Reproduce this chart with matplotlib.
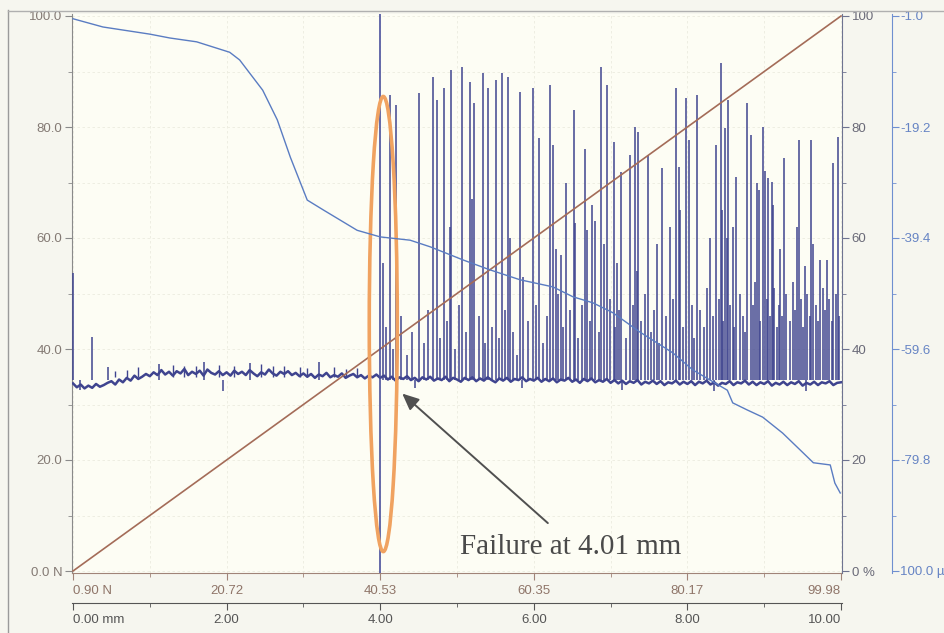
import matplotlib
matplotlib.use("Agg")
import matplotlib.pyplot as plt
from matplotlib.patches import Ellipse
from matplotlib.lines import Line2D
from matplotlib.ticker import FixedLocator
import numpy as np

# ---------------- data ----------------
dist_ticks = [0, 2, 4, 6, 8, 10]
dist_labels = ["0.00 mm", "2.00", "4.00", "6.00", "8.00", "10.00"]
load_labels = ["0.90 N", "20.72", "40.53", "60.35", "80.17", "99.98"]

left_ticks = [0, 20, 40, 60, 80, 100]
left_labels = ["0.0 N", "20.0", "40.0", "60.0", "80.0", "100.0"]
pct_labels = ["0 %", "20", "40", "60", "80", "100"]
depth_ticks = [-100.0, -79.8, -59.6, -39.4, -19.2, 1.0]
depth_labels = ["100.0 \u00b5", "-79.8", "-59.6", "-39.4", "-19.2", "-1.0"]

# normal load ramp (plotted on left axis scale)
load_mm = [0.0, 10.0]
load_val = [0.0, 100.0]

# penetration depth (um)
depth_mm = [0.00, 0.39, 1.00, 1.26, 1.61, 2.04, 2.17, 2.47, 2.66, 2.83, 3.05, 3.26,
            3.70, 4.00, 4.39, 4.65, 5.08, 5.43, 5.82, 6.25, 6.51, 6.77, 7.03, 7.38,
            7.81, 8.07, 8.52, 8.59, 8.78, 8.98, 9.24, 9.47, 9.64, 9.86, 9.92, 9.99]
depth_um = [0.5, -1.0, -2.3, -3.0, -3.7, -5.6, -7.0, -12.5, -17.9, -24.7, -32.5, -34.3,
            -38.0, -39.2, -39.8, -41.0, -43.4, -45.2, -47.0, -48.3, -50.1, -51.2, -53.0, -56.5,
            -60.3, -63.4, -67.1, -69.4, -70.7, -72.0, -74.9, -78.0, -80.3, -80.7, -84.0, -85.8]

# acoustic emission baseline (%), sampled every 0.05 mm
ae_step_mm = 0.05
ae_base = [33.8, 33.1, 33.6, 32.9, 33.4, 33.0, 33.7, 33.2, 33.5, 33.9, 34.2, 33.6, 34.5, 34.0, 34.8, 34.3, 35.2, 34.6, 35.0, 35.5,
           35.1, 35.8, 35.3, 36.2, 35.4, 35.9, 35.2, 36.0, 35.6, 36.4, 35.3, 35.9, 35.5, 36.1, 35.2, 36.3, 35.7, 35.4, 36.0, 35.3,
           35.8, 35.2, 36.1, 35.5, 35.9, 35.3, 36.2, 35.6, 35.1, 35.8, 35.4, 36.3, 35.6, 35.2, 35.9, 35.5, 36.0, 35.3, 35.7, 35.1,
           35.6, 35.0, 35.5, 34.8, 35.4, 35.1, 35.7, 34.9, 35.3, 35.0, 35.6, 34.8, 35.2, 35.5, 34.9, 35.3, 34.7, 35.2, 34.9, 35.4,
           34.8, 35.2, 34.5, 35.0, 34.3, 34.9, 34.6, 35.1, 34.4, 34.8, 34.2, 34.9, 34.5, 35.0, 34.3, 34.7, 34.4, 35.0, 34.2, 34.8,
           34.5, 34.1, 34.8, 34.4, 34.9, 34.2, 34.7, 34.3, 34.9, 34.4, 34.0, 34.7, 34.3, 34.8, 34.1, 34.6, 34.4, 34.9, 34.2, 34.6,
           34.3, 34.8, 34.1, 34.6, 34.2, 34.7, 34.0, 34.5, 34.3, 34.8, 34.1, 34.5, 33.9, 34.6, 34.2, 34.7, 34.0, 34.4, 34.1, 34.6,
           33.9, 34.4, 33.8, 34.3, 33.7, 34.2, 33.9, 34.4, 33.6, 34.1, 33.8, 34.3, 33.7, 34.2, 33.5, 34.0, 33.8, 34.3, 33.6, 34.1,
           33.7, 34.2, 33.5, 34.1, 33.8, 34.3, 33.6, 34.0, 33.4, 33.9, 33.7, 34.2, 33.5, 34.0, 33.8, 34.3, 33.6, 34.1, 33.5, 34.0,
           33.7, 34.2, 33.4, 33.9, 33.6, 34.1, 33.5, 34.0, 33.7, 34.2, 33.4, 33.9, 33.6, 34.1, 33.5, 34.0, 33.8, 34.2, 33.5, 33.9,
           34.0]

# small ripples on the baseline before failure (position mm, peak %)
ripple_mm = [0.55, 0.70, 0.85, 1.30, 1.45, 1.60, 1.90, 2.10, 2.45, 2.60, 2.75, 2.95,
             3.05, 3.40, 3.55, 3.70]
ripple_pct = [36.0, 36.3, 36.8, 37.2, 36.9, 37.0, 37.1, 37.0, 37.3, 36.9, 37.0, 36.8,
              36.5, 36.7, 36.4, 36.5]

# acoustic emission bursts (position mm, peak %)
spike_mm = [0.00, 0.25, 0.45, 1.12, 1.71, 2.30, 3.20, 3.85,
            4.04, 4.13, 4.21, 4.51, 4.69, 4.74, 4.83, 4.91, 4.92, 5.07, 5.17, 5.20, 5.22,
            5.34, 5.40, 5.51, 5.59, 5.66, 5.69, 5.82, 5.86, 5.99, 6.07, 6.21, 6.25, 6.29,
            6.35, 6.42, 6.52, 6.54, 6.67, 6.69, 6.76, 6.80, 6.88, 6.91, 6.95, 7.04, 7.08,
            7.14, 7.25, 7.32, 7.34, 7.36, 7.49, 7.60, 7.67, 7.77, 7.85, 7.89, 7.90, 7.98,
            8.02, 8.13, 8.29, 8.37, 8.44, 8.45, 8.49, 8.51, 8.53, 8.59, 8.63, 8.78, 8.83,
            8.91, 8.93, 8.98, 9.01, 9.05, 9.10, 9.11, 9.21, 9.26, 9.43, 9.45, 9.53, 9.61,
            9.64, 9.73, 9.82, 9.90, 9.96,
            4.08, 4.17, 4.27, 4.35, 4.42, 4.57, 4.62, 4.78, 4.87, 4.97, 5.02, 5.12, 5.28,
            5.37, 5.45, 5.55, 5.63, 5.73, 5.78, 5.93, 6.03, 6.12, 6.17, 6.32, 6.38, 6.47,
            6.58, 6.63, 6.73, 6.85, 6.99, 7.06, 7.11, 7.20, 7.29, 7.40, 7.45, 7.53, 7.57,
            7.63, 7.72, 7.81, 7.94, 8.06, 8.09, 8.17, 8.22, 8.26, 8.33, 8.41, 8.47, 8.56,
            8.61, 8.68, 8.72, 8.75, 8.86, 8.88, 8.95, 9.03, 9.07, 9.13, 9.17, 9.19, 9.23,
            9.29, 9.33, 9.37, 9.40, 9.48, 9.51, 9.56, 9.59, 9.67, 9.70, 9.76, 9.79, 9.85,
            9.88, 9.94, 9.98]
spike_pct = [53.7, 42.2, 36.8, 37.3, 37.6, 37.4, 37.6, 36.8,
             55.5, 85.8, 84.0, 86.1, 89.0, 84.9, 87.0, 62.0, 90.3, 90.8, 88.1, 67.0, 84.3,
             89.7, 87.0, 88.5, 89.7, 89.0, 60.0, 86.3, 53.0, 87.0, 78.0, 87.6, 76.8, 58.0,
             57.0, 70.0, 83.0, 62.7, 76.0, 61.4, 66.0, 63.0, 90.8, 59.0, 87.6, 77.3, 55.5,
             71.9, 75.0, 80.0, 54.0, 79.1, 75.0, 59.0, 72.6, 62.0, 87.0, 72.8, 65.0, 85.2,
             77.7, 85.8, 60.0, 76.8, 91.5, 65.0, 79.8, 60.0, 84.9, 62.0, 71.0, 84.3, 78.6,
             70.0, 68.6, 80.0, 72.0, 70.8, 70.1, 66.0, 58.0, 74.4, 62.0, 77.7, 55.0, 77.7,
             59.0, 56.0, 56.0, 73.5, 78.2,
             44, 40, 46, 39, 43, 41, 47, 42, 45, 40, 48, 43, 46,
             41, 44, 42, 47, 43, 39, 45, 48, 41, 46, 50, 44, 47,
             42, 48, 45, 43, 49, 44, 47, 42, 48, 45, 50, 43, 47,
             41, 46, 49, 44, 48, 42, 47, 44, 51, 46, 49, 45, 48,
             44, 50, 46, 43, 48, 52, 45, 49, 46, 51, 44, 48, 46,
             50, 45, 52, 47, 49, 44, 50, 46, 48, 45, 51, 47, 49,
             45, 50, 46]
dip_mm = [0.09, 1.95, 4.45, 5.85, 7.15, 8.35, 9.55]
dip_pct = [32.6, 32.4, 33.0, 32.9, 32.6, 32.4, 32.5]

cursor_mm = 4.0
failure_text = "Failure at 4.01 mm"

# ---------------- figure ----------------
W, H = 945, 633
fig = plt.figure(figsize=(W / 100, H / 100), dpi=100, facecolor="#f6f6ef")
ax_l, ax_r, ax_t, ax_b = 72, 842, 14, 573
ax = fig.add_axes([ax_l / W, (H - ax_b) / H, (ax_r - ax_l) / W, (ax_b - ax_t) / H])
ax.set_facecolor("#fdfdf4")

px_mm = 76.8
ax.set_xlim(-1 / px_mm, 10 + (ax_r - ax_l - 1 - 10 * px_mm) / px_mm)
ylo, yhi = -2 / 5.55, 100 + 2 / 5.55
ax.set_ylim(ylo, yhi)

tick_font = dict(family=["Liberation Sans", "DejaVu Sans"], size=9.5)
brown_lab = "#8f7569"

# grid
ax.set_xticks(dist_ticks)
ax.set_xticks([1, 3, 5, 7, 9], minor=True)
ax.set_yticks(left_ticks)
ax.set_yticks([10, 30, 50, 70, 90], minor=True)
ax.grid(True, which="both", color="#ececdf", lw=0.6, ls=(0, (3, 3)))
ax.set_axisbelow(True)

ax.set_xticklabels(load_labels, fontdict=tick_font, color=brown_lab)
ax.set_yticklabels(left_labels, fontdict=tick_font, color="#847a74")
xl = ax.get_xticklabels()
xl[0].set_ha("left")
xl[-1].set_ha("right")
ax.tick_params(axis="x", which="major", direction="out", length=5, color="#a08478", pad=4)
ax.tick_params(axis="x", which="minor", direction="out", length=3, color="#a08478")
ax.tick_params(axis="y", which="major", direction="out", length=5, color="#8a8a8a", pad=2)
ax.tick_params(axis="y", which="minor", direction="out", length=3, color="#8a8a8a")
ax.spines["top"].set_visible(False)
ax.spines["right"].set_visible(False)
ax.spines["left"].set_color("#8a8a8a")
ax.spines["bottom"].set_color("#a08478")

# secondary distance axis below
sec = ax.secondary_xaxis(-30 / (ax_b - ax_t))
sec.set_xticks(dist_ticks)
sec.set_xticks([1, 3, 5, 7, 9], minor=True)
sec.set_xticklabels(dist_labels, fontdict=tick_font, color="#555555")
sl = sec.get_xticklabels()
sl[0].set_ha("left")
sl[-1].set_ha("right")
sec.tick_params(axis="x", which="major", direction="out", length=5, color="#555555", pad=3)
sec.tick_params(axis="x", which="minor", direction="out", length=3, color="#555555")
sec.spines["bottom"].set_color("#555555")

# AE baseline and bursts
base_mm = np.arange(len(ae_base)) * ae_step_mm
navy = "#3f448f"
ax.vlines(spike_mm, 34.5, spike_pct, color=navy, lw=1.1, zorder=3)
ax.vlines(ripple_mm, 35.0, ripple_pct, color=navy, lw=1.0, zorder=3)
ax.vlines(dip_mm, dip_pct, 34.5, color=navy, lw=1.1, zorder=3)
ax.plot(base_mm, ae_base, color=navy, lw=1.8, zorder=4)

# load ramp
ax.plot(load_mm, load_val, color="#a46c58", lw=1.2, zorder=5)

# cursor
ax.axvline(cursor_mm, color="#4b519d", lw=1.2, zorder=6)

# ellipse highlight
ax.add_patch(Ellipse((4.04, 44.5), 0.365, 82.0, fill=False, ec="#f0a260", lw=2.6, zorder=7))

# arrow + text
ax.annotate("", xy=(4.26, 32.3), xytext=(6.21, 8.3),
            arrowprops=dict(arrowstyle="-|>,head_length=1.0,head_width=0.45",
                            color="#505050", lw=1.4), zorder=8)
ax.text(5.04, 3.0, failure_text, family=["Liberation Serif", "DejaVu Serif"],
        fontsize=21, color="#4a4a4a", ha="left", va="baseline", zorder=8)

# percent axis (right)
axp = ax.twinx()
axp.set_ylim(ylo, yhi)
axp.set_yticks(left_ticks)
axp.set_yticks([10, 30, 50, 70, 90], minor=True)
axp.set_yticklabels(pct_labels, fontdict=tick_font, color="#6a6a78")
axp.tick_params(axis="y", which="major", direction="out", length=5, color="#6e7390", pad=2)
axp.tick_params(axis="y", which="minor", direction="out", length=3, color="#6e7390")
for s in ["top", "left", "bottom"]:
    axp.spines[s].set_visible(False)
axp.spines["right"].set_color("#6e7390")

# depth axis (far right)
axd = ax.twinx()
axd.set_ylim(1.01 * ylo - 100, 1.01 * yhi - 100)
axd.spines["right"].set_position(("axes", (892 - ax_l) / (ax_r - ax_l)))
for s in ["top", "left", "bottom"]:
    axd.spines[s].set_visible(False)
axd.spines["right"].set_color("#6f8fd0")
axd.set_yticks(depth_ticks)
axd.yaxis.set_minor_locator(FixedLocator([-89.9, -69.7, -49.5, -29.3, -9.1]))
axd.set_yticklabels(depth_labels, fontdict=tick_font, color="#6684c4")
axd.tick_params(axis="y", which="major", direction="out", length=5, color="#6f8fd0", pad=1)
axd.tick_params(axis="y", which="minor", direction="out", length=3, color="#6f8fd0")
axd.plot(depth_mm, depth_um, color="#5a7cc2", lw=1.0, zorder=5)

# outer frame lines
fig.add_artist(Line2D([8 / W, 8 / W], [0, 1 - 10 / H], transform=fig.transFigure,
                      color="#9a9a9a", lw=1.0))
fig.add_artist(Line2D([8 / W, 1], [1 - 11 / H, 1 - 11 / H], transform=fig.transFigure,
                      color="#b0b0b0", lw=1.0))

fig.savefig("out.png", dpi=100, facecolor=fig.get_facecolor())
